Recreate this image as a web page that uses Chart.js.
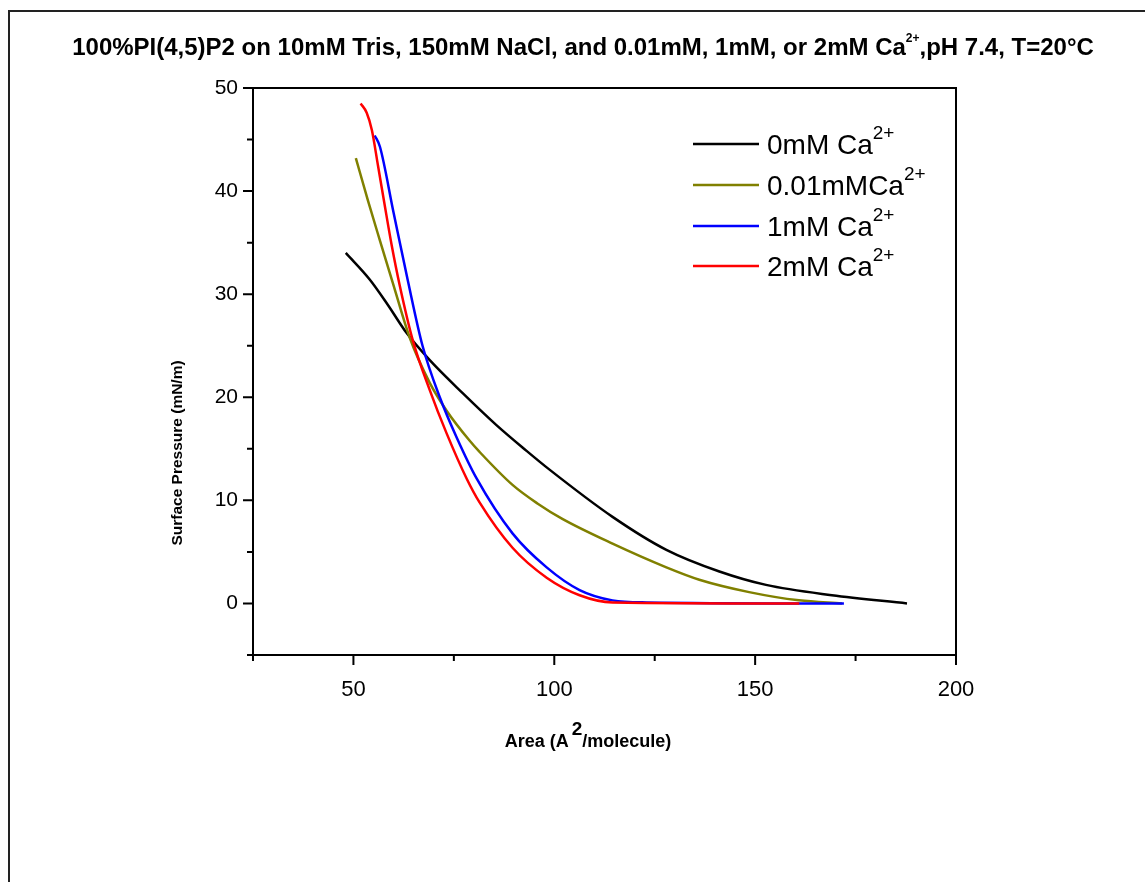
<!DOCTYPE html>
<html><head><meta charset="utf-8">
<script src="https://cdn.jsdelivr.net/npm/chart.js@4/dist/chart.umd.min.js"></script>
<style>html,body{margin:0;padding:0;background:#fff}canvas{display:block}</style>
</head><body>
<canvas id="c" width="1145" height="882"></canvas>
<script>
const titleText = '100%PI(4,5)P2 on 10mM Tris, 150mM NaCl, and 0.01mM, 1mM, or 2mM Ca²⁺,pH 7.4, T=20°C';
const xAxisTitle = 'Area (A²/molecule)';
const yAxisTitle = 'Surface Pressure (mN/m)';
const seriesLabels = ['0mM Ca²⁺', '0.01mMCa²⁺', '1mM Ca²⁺', '2mM Ca²⁺'];
const seriesColors = ['#000000', '#808000', '#0000ff', '#ff0000'];

const area0 = [48.1, 54.1, 58.5, 63.3, 69.0, 77.2, 85.6, 93.1, 98.1, 114.5, 127.9, 141.1, 152.7, 169.1, 187.8];
const pressure0 = [34.0, 31.4, 29.0, 26.2, 23.6, 20.4, 17.3, 14.8, 13.2, 8.4, 5.2, 3.1, 1.8, 0.8, 0.0];

const area001 = [50.6, 53.6, 56.6, 59.8, 64.0, 69.0, 73.2, 78.9, 81.4, 89.6, 95.8, 102.0, 114.5, 127.9, 136.1, 148.5, 160.9, 171.6];
const pressure001 = [43.2, 39.1, 35.2, 31.1, 25.8, 21.4, 18.7, 15.8, 14.7, 11.5, 9.7, 8.2, 5.8, 3.5, 2.3, 1.1, 0.3, 0.0];

const area1 = [55.3, 56.6, 60.0, 63.5, 67.2, 71.5, 75.7, 80.7, 89.6, 98.1, 106.3, 114.5, 122.9, 172.1];
const pressure1 = [45.4, 44.3, 37.9, 31.4, 25.0, 20.0, 16.1, 12.1, 6.8, 3.5, 1.3, 0.3, 0.1, 0.0];

const area2 = [51.8, 53.3, 54.6, 56.1, 57.8, 59.5, 61.5, 64.8, 69.0, 73.2, 78.2, 81.4, 89.6, 98.1, 106.3, 114.5, 161.0];
const pressure2 = [48.5, 47.6, 45.9, 42.5, 38.6, 34.8, 30.9, 25.5, 20.7, 16.5, 12.1, 9.8, 5.4, 2.5, 0.8, 0.1, 0.0];

const xMajorTicks = [50, 100, 150, 200];
const xMinorTicks = [25, 75, 125, 175];
const yMajorTicks = [0, 10, 20, 30, 40, 50];
const yMinorTicks = [-5, 5, 15, 25, 35, 45];

const FONT = "'Liberation Sans', Arial, sans-serif";

function pts(xs, ys) { return xs.map((x, i) => ({x: x, y: ys[i]})); }

function richParts(text) {
  return text.split(/(²⁺|²)/).filter(s => s.length).map(s =>
    s === '²⁺' ? {t: '2+', sup: true} : s === '²' ? {t: '2', sup: true} : {t: s, sup: false});
}
function drawRich(ctx, text, x, y, size, weight, align, opts) {
  const o = Object.assign({supRatio: 0.62, raise: 0.42, gap: 0}, opts || {});
  const parts = richParts(text);
  const supSize = Math.round(size * o.supRatio);
  let total = 0;
  parts.forEach(p => {
    ctx.font = weight + ' ' + (p.sup ? supSize : size) + 'px ' + FONT;
    p.w = ctx.measureText(p.t).width + (p.sup ? o.gap : 0); total += p.w;
  });
  let cx = align === 'center' ? x - total / 2 : x;
  ctx.textBaseline = 'middle'; ctx.textAlign = 'left';
  parts.forEach(p => {
    ctx.font = weight + ' ' + (p.sup ? supSize : size) + 'px ' + FONT;
    ctx.fillText(p.t, cx + (p.sup ? o.gap : 0), p.sup ? y - size * o.raise : y);
    cx += p.w;
  });
}

const decor = {
  id: 'decor',
  beforeDraw(chart) {
    const ctx = chart.ctx;
    ctx.save();
    ctx.fillStyle = '#fff'; ctx.fillRect(0, 0, chart.width, chart.height);
    ctx.strokeStyle = '#222'; ctx.lineWidth = 2;
    ctx.beginPath(); ctx.moveTo(9, 882); ctx.lineTo(9, 11); ctx.lineTo(1145, 11); ctx.stroke();
    ctx.fillStyle = '#000';
    drawRich(ctx, titleText, 583, 48, 24, 'bold', 'center', {supRatio: 0.5, raise: 0.4});
    drawRich(ctx, xAxisTitle, 588, 742, 18, 'bold', 'center', {supRatio: 1.05, raise: 0.7, gap: 3});
    ctx.translate(178, 453); ctx.rotate(-Math.PI / 2);
    drawRich(ctx, yAxisTitle, 0, 0, 15.5, 'bold', 'center');
    ctx.restore();
  },
  afterDraw(chart) {
    const ctx = chart.ctx, a = chart.chartArea, xs = chart.scales.x, ys = chart.scales.y;
    ctx.save();
    ctx.strokeStyle = '#000'; ctx.lineWidth = 2;
    ctx.strokeRect(a.left, a.top, a.right - a.left, a.bottom - a.top);
    ctx.beginPath();
    ctx.moveTo(a.left - 5, a.bottom); ctx.lineTo(a.left, a.bottom);
    ctx.moveTo(a.left, a.bottom); ctx.lineTo(a.left, a.bottom + 4);
    xMajorTicks.forEach(v => { const p = xs.getPixelForValue(v); ctx.moveTo(p, a.bottom); ctx.lineTo(p, a.bottom + 10); });
    xMinorTicks.forEach(v => { const p = xs.getPixelForValue(v); ctx.moveTo(p, a.bottom); ctx.lineTo(p, a.bottom + 6); });
    yMajorTicks.forEach(v => { const p = ys.getPixelForValue(v); ctx.moveTo(a.left, p); ctx.lineTo(a.left - 10, p); });
    yMinorTicks.forEach(v => { const p = ys.getPixelForValue(v); ctx.moveTo(a.left, p); ctx.lineTo(a.left - 6, p); });
    ctx.stroke();
    const rows = [144, 185, 226, 266];
    chart.data.datasets.forEach((ds, i) => {
      const y = rows[i];
      ctx.strokeStyle = ds.borderColor; ctx.lineWidth = 2.5;
      ctx.beginPath(); ctx.moveTo(693, y); ctx.lineTo(759, y); ctx.stroke();
      ctx.fillStyle = '#000';
      drawRich(ctx, ds.label, 767, y + 2, 28, 'normal', 'left', {supRatio: 0.68, raise: 0.42});
    });
    ctx.restore();
  }
};

const datasets = [
  {label: seriesLabels[0], data: pts(area0, pressure0), borderColor: seriesColors[0], order: 3},
  {label: seriesLabels[1], data: pts(area001, pressure001), borderColor: seriesColors[1], order: 2},
  {label: seriesLabels[2], data: pts(area1, pressure1), borderColor: seriesColors[2], order: 1},
  {label: seriesLabels[3], data: pts(area2, pressure2), borderColor: seriesColors[3], order: 0}
].map(d => Object.assign(d, {showLine: true, pointRadius: 0, borderWidth: 2.5, cubicInterpolationMode: 'monotone', fill: false}));

new Chart(document.getElementById('c'), {
  type: 'scatter',
  data: {datasets: datasets},
  options: {
    responsive: false, animation: false, devicePixelRatio: 1,
    layout: {padding: {top: 88, right: 189, left: 0, bottom: 0}},
    plugins: {legend: {display: false}, title: {display: false}, tooltip: {enabled: false}},
    scales: {
      x: {
        type: 'linear', min: 25, max: 200,
        afterFit: s => { s.height = 227; },
        grid: {display: false, drawTicks: false}, border: {display: false},
        ticks: {stepSize: 25, autoSkip: false, maxRotation: 0, padding: 22, color: '#000',
                font: {family: FONT, size: 22},
                callback: v => xMajorTicks.includes(v) ? String(v) : ''},
        title: {display: false}
      },
      y: {
        type: 'linear', min: -5, max: 50,
        afterFit: s => { s.width = 253; },
        grid: {display: false, drawTicks: false}, border: {display: false},
        ticks: {stepSize: 5, autoSkip: false, padding: 15, color: '#000',
                font: {family: FONT, size: 21},
                callback: v => yMajorTicks.includes(v) ? String(v) : ''},
        title: {display: false}
      }
    }
  },
  plugins: [decor]
});
</script>
</body></html>
